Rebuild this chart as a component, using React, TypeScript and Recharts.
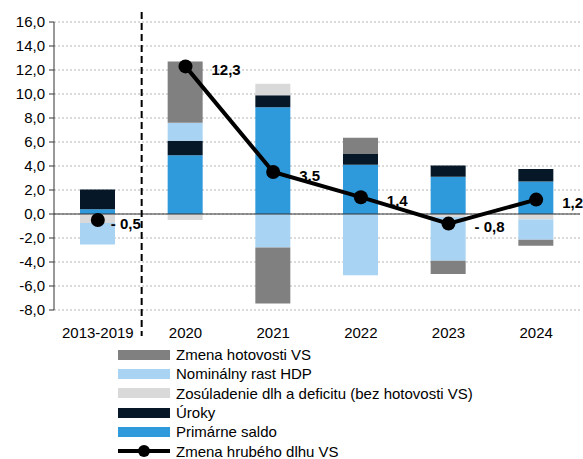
import React from "react";
import {
  ComposedChart,
  Bar,
  Line,
  XAxis,
  YAxis,
  CartesianGrid,
  ReferenceLine,
  LabelList,
} from "recharts";

const categories = ["2013-2019", "2020", "2021", "2022", "2023", "2024"];
const primarneSaldo = [0.4, 4.9, 8.9, 4.1, 3.1, 2.7];
const uroky = [1.65, 1.2, 1.0, 0.9, 0.95, 1.05];
const zosuladenie = [-0.75, -0.5, 0.95, 0, -0.25, -0.45];
const nominalnyRast = [-1.8, 1.5, -2.8, -5.1, -3.65, -1.7];
const zmenaHotovosti = [0, 5.1, -4.65, 1.35, -1.1, -0.5];
const zmenaDlhu = [-0.5, 12.3, 3.5, 1.4, -0.8, 1.2];
const yTicks = [-8, -6, -4, -2, 0, 2, 4, 6, 8, 10, 12, 14, 16];

// the first period is an average, so its point is not joined to the yearly line
const data = categories.map((c, i) => ({
  name: c,
  primarne: primarneSaldo[i],
  uroky: uroky[i],
  zosuladenie: zosuladenie[i],
  nominal: nominalnyRast[i],
  hotovost: zmenaHotovosti[i],
  dlhLine: i > 0 ? zmenaDlhu[i] : null,
  dlhPoint: i === 0 ? zmenaDlhu[i] : null,
}));

const C_GRAY = "#808080";
const C_LBLUE = "#A9D3F2";
const C_LGRAY = "#D9D9D9";
const C_NAVY = "#061828";
const C_BLUE = "#2E9ADB";

const font = "'Liberation Sans', Arial, sans-serif";
const FS = 15;

const fmt = (v: number) => v.toFixed(1).replace(".", ",");
const fmtLabel = (v: number) =>
  v < 0 ? "- " + Math.abs(v).toFixed(1).replace(".", ",") : fmt(v);

const legendItems = [
  { label: "Zmena hotovosti VS", color: C_GRAY },
  { label: "Nominálny rast HDP", color: C_LBLUE },
  { label: "Zosúladenie dlh a deficitu (bez hotovosti VS)", color: C_LGRAY },
  { label: "Úroky", color: C_NAVY },
  { label: "Primárne saldo", color: C_BLUE },
];

const DlhLabel = (props: any) => {
  const { x, y, value, dx = 26 } = props;
  if (value == null) return null;
  return (
    <text
      x={x + dx}
      y={y + 3}
      dominantBaseline="central"
      fontSize={FS}
      fontWeight="bold"
      fill="#000"
      fontFamily={font}
    >
      {fmtLabel(value)}
    </text>
  );
};

const DividerLine = (props: any) => {
  const { x1, y1, x2, y2 } = props;
  return (
    <line
      x1={x1}
      x2={x2}
      y1={Math.min(y1, y2) - 10}
      y2={Math.max(y1, y2) + 26}
      stroke="#000"
      strokeWidth={2}
      strokeDasharray="7 4"
    />
  );
};

export default function App() {
  return (
    <div
      style={{
        position: "absolute",
        left: 0,
        top: 0,
        width: 583,
        height: 459,
        background: "#fff",
        fontFamily: font,
      }}
    >
      <ComposedChart
        width={583}
        height={345}
        data={data}
        stackOffset="sign"
        margin={{ top: 22, right: 3, left: 0, bottom: 0 }}
      >
        <CartesianGrid
          vertical={false}
          stroke="#b5b5b5"
          strokeDasharray="2 2"
        />
        <XAxis
          dataKey="name"
          axisLine={false}
          tickLine={false}
          height={35}
          tickMargin={11}
          tick={{ fontSize: FS, fill: "#000", fontFamily: font }}
        />
        <YAxis
          domain={[-8, 16]}
          ticks={yTicks}
          interval={0}
          width={54}
          tickSize={5}
          tickMargin={4}
          axisLine={{ stroke: "#333" }}
          tickLine={{ stroke: "#333" }}
          tickFormatter={fmt}
          tick={{ fontSize: FS, fill: "#000", fontFamily: font }}
        />
        <Bar dataKey="primarne" stackId="a" fill={C_BLUE} barSize={35} isAnimationActive={false} />
        <Bar dataKey="uroky" stackId="a" fill={C_NAVY} barSize={35} isAnimationActive={false} />
        <Bar dataKey="zosuladenie" stackId="a" fill={C_LGRAY} barSize={35} isAnimationActive={false} />
        <Bar dataKey="nominal" stackId="a" fill={C_LBLUE} barSize={35} isAnimationActive={false} />
        <Bar dataKey="hotovost" stackId="a" fill={C_GRAY} barSize={35} isAnimationActive={false} />
        <ReferenceLine y={0} stroke="#333" strokeWidth={1} />
        <ReferenceLine x="2013-2019" position="end" shape={<DividerLine />} />
        <Line
          dataKey="dlhLine"
          type="linear"
          stroke="#000"
          strokeWidth={4}
          dot={{ r: 7, fill: "#000", stroke: "#000", strokeWidth: 0 }}
          isAnimationActive={false}
        >
          <LabelList dataKey="dlhLine" content={<DlhLabel />} />
        </Line>
        <Line
          dataKey="dlhPoint"
          type="linear"
          stroke="none"
          dot={{ r: 7, fill: "#000", stroke: "#000", strokeWidth: 0 }}
          legendType="none"
          isAnimationActive={false}
        >
          <LabelList dataKey="dlhPoint" content={<DlhLabel dx={13} />} />
        </Line>
      </ComposedChart>
      <div style={{ position: "absolute", left: 118, top: 345, fontSize: FS, color: "#000" }}>
        {legendItems.map((it) => (
          <div key={it.label} style={{ display: "flex", alignItems: "center", height: 19.3 }}>
            <div style={{ width: 52, height: 10, background: it.color, marginRight: 6 }} />
            <span style={{ whiteSpace: "nowrap" }}>{it.label}</span>
          </div>
        ))}
        <div style={{ display: "flex", alignItems: "center", height: 19.3 }}>
          <svg width={52} height={16} style={{ marginRight: 6 }}>
            <line x1={0} x2={52} y1={8} y2={8} stroke="#000" strokeWidth={4} />
            <circle cx={26} cy={8} r={6} fill="#000" />
          </svg>
          <span style={{ whiteSpace: "nowrap" }}>Zmena hrubého dlhu VS</span>
        </div>
      </div>
    </div>
  );
}
